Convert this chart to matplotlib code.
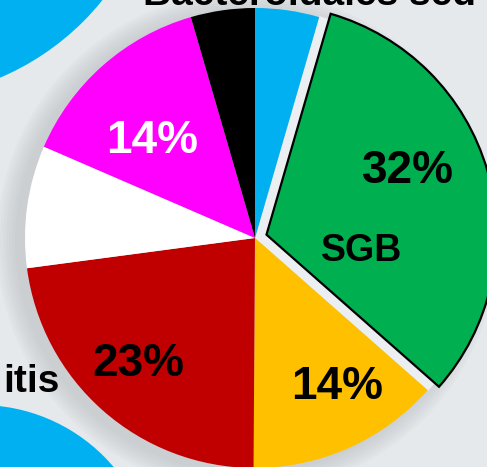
import matplotlib.pyplot as plt
from matplotlib.patches import Circle, Wedge

plt.rcParams['font.family'] = ['Liberation Sans', 'DejaVu Sans']

# slice shares, clockwise from 12 o'clock
groups = ["other", "SGB", "yellow", "red", "white", "magenta", "black"]
shares = [4.5, 32.0, 13.6, 22.8, 8.6, 14.0, 4.5]
colors = ["#00B0F0", "#00B050", "#FFC000", "#C00000", "#FFFFFF", "#FF00FF", "#000000"]
pulled = [0, 0.052, 0, 0, 0, 0, 0]  # fraction of the radius

# percent labels (text, x, baseline y, colour)
pct_labels = ["14%", "32%", "23%", "14%"]
pct_pos = [(152, 314), (408, 284), (138, 91), (337, 68)]
pct_colors = ["white", "black", "black", "black"]

W, H = 487, 467
cx, cy, R = 255, 229, 230
bg = "#E6E9EC"

fig = plt.figure(figsize=(W / 100, H / 100), dpi=100)
fig.patch.set_facecolor(bg)
ax = fig.add_axes([0, 0, 1, 1])

# soft shadow behind the pie, plus the blue circles of the slide
for k in range(7):
    ax.add_patch(Circle((cx - 8, cy - 4), R + 2 + 3 * k, color="#B8BDC1",
                        alpha=0.10, zorder=0, lw=0))
ax.add_patch(Circle((-104, H + 166), 265, color="#00B0F0", zorder=1, lw=0))
ax.add_patch(Circle((-20, H - 580), 175, color="#00B0F0", zorder=1, lw=0))

wedges, _ = ax.pie(shares, colors=colors, explode=[p * R for p in pulled],
                   startangle=90, counterclock=False, center=(cx, cy),
                   radius=R, wedgeprops=dict(linewidth=0))
wedges[1].set_edgecolor("black")
wedges[1].set_linewidth(1.6)

# keep the gap left by the pulled-out slice light
w = wedges[1]
ax.add_patch(Wedge((cx, cy), R + 1, w.theta1, w.theta2, color="#ECEFF1",
                   zorder=0.5, lw=0))

for t, (x, y), c in zip(pct_labels, pct_pos, pct_colors):
    ax.text(x, y, t, ha="center", va="baseline", fontsize=33,
            fontweight="bold", color=c)

ax.text(362, 206, "SGB", ha="center", va="baseline", fontsize=27,
        fontweight="bold", color="black")
ax.text(60, 75, "itis", ha="right", va="baseline", fontsize=28,
        fontweight="bold", color="black")
ax.text(143, H - 5, "Bacteroidales sed", ha="left", va="baseline",
        fontsize=28, fontweight="bold", color="black")

ax.set_xlim(0, W)
ax.set_ylim(0, H)
ax.set_aspect("equal")
ax.axis("off")

fig.savefig("out.png", dpi=100, facecolor=fig.get_facecolor())
